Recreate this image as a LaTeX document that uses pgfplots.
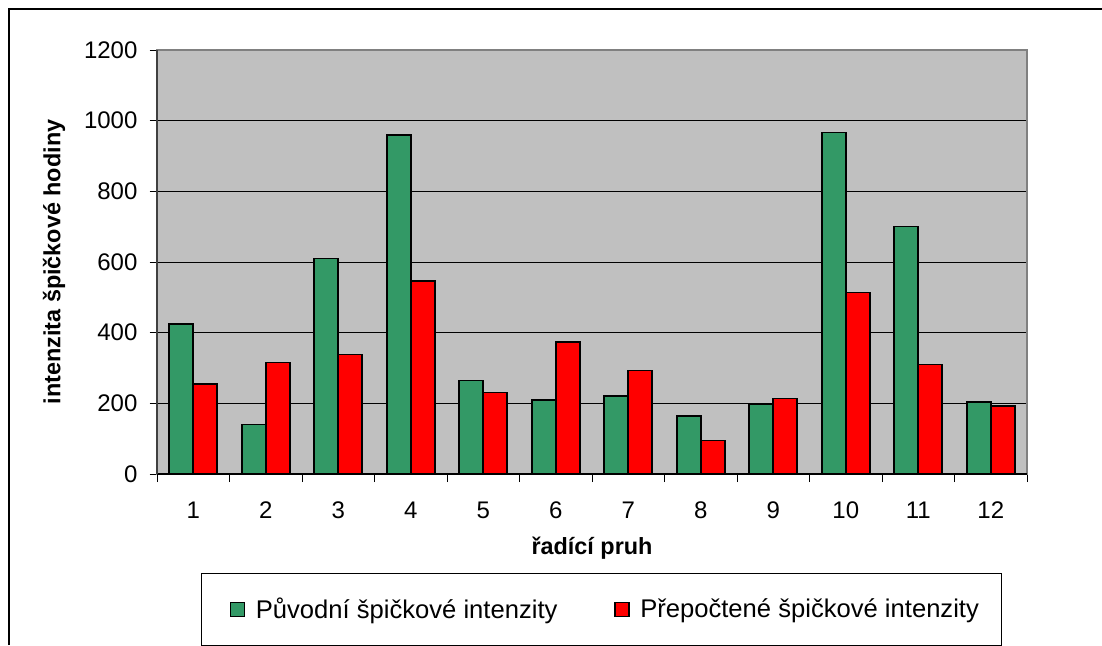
\documentclass[border=0pt]{standalone}
\usepackage{fontspec}
\setmainfont{Liberation Sans}
\usepackage{pgfplots}
\pgfplotsset{compat=1.18}
\definecolor{barGreen}{HTML}{339966}
\definecolor{barRed}{HTML}{FF0000}
\definecolor{plotBg}{HTML}{C0C0C0}
\definecolor{plotBorder}{HTML}{808080}
\pgfplotsset{sqlegend/.style={legend image code/.code={\path (-8pt,0pt); \draw[##1] (0pt,-3.5pt) rectangle (7pt,3.5pt);}}}
\begin{document}
\begin{tikzpicture}
\useasboundingbox (0,0) rectangle (551pt,322.5pt);
\draw[black,line width=0.8pt] (4.5pt,0) -- (4.5pt,318pt) -- (551pt,318pt);
\begin{axis}[
  at={(78.5pt,85.5pt)}, anchor=south west, scale only axis,
  width=435pt, height=212pt,
  xmin=0.5, xmax=12.5, ymin=0, ymax=1200,
  ytick={0,200,...,1200}, xtick={1,...,12},
  minor xtick={0.5,1.5,...,12.5},
  tick pos=left, tick align=outside,
  major tick length=3.75pt, minor tick length=4pt,
  tick style={black, line width=0.5pt},
  major x tick style={draw=none},
  ymajorgrids, grid style={black, line width=0.5pt},
  axis line style={draw=plotBorder, line width=0.8pt},
  axis background/.style={fill=plotBg},
  clip=false,
  ticklabel style={font=\fontsize{12}{14}\selectfont},
  /pgf/number format/assume math mode=true,
  /pgf/number format/1000 sep={},
  yticklabel style={xshift=-2.5pt},
  xticklabel style={yshift=-6.5pt},
  xlabel={řadící pruh},
  ylabel={intenzita špičkové hodiny},
  xlabel style={at={(axis description cs:0.5,-0.1745)}, anchor=center, font=\bfseries\fontsize{11.7}{14}\selectfont},
  ylabel style={at={(axis description cs:-0.1184,0.5)}, anchor=center, font=\bfseries\fontsize{11.7}{14}\selectfont},
  legend columns=2,
  legend cell align=left,
  legend style={at={(axis description cs:0.511,-0.3195)}, anchor=center,
    draw=black, line width=0.6pt, fill=white,
    font=\fontsize{12.8}{15}\selectfont,
    inner xsep=6pt, inner ysep=10pt,
    nodes={inner xsep=5.3pt},
    /tikz/every even column/.append style={column sep=15pt}},
]
\addplot[ybar, bar width=0.331, bar shift=-0.1655, fill=barGreen, draw=black, line width=0.8pt, sqlegend]
  coordinates {(1,424) (2,140) (3,610) (4,960) (5,265) (6,209) (7,220) (8,164) (9,197) (10,966) (11,700) (12,203)};
\addlegendentry{Původní špičkové intenzity}
\addplot[ybar, bar width=0.331, bar shift=0.1655, fill=barRed, draw=black, line width=0.8pt, sqlegend]
  coordinates {(1,254) (2,316) (3,338) (4,547) (5,231) (6,374) (7,293) (8,95) (9,214) (10,514) (11,310) (12,192)};
\addlegendentry{Přepočtené špičkové intenzity}
\draw[black, line width=0.8pt] (rel axis cs:0,0) -- (rel axis cs:1,0);
\draw[black!75, line width=0.8pt] (rel axis cs:0,0) -- (rel axis cs:0,1);
\end{axis}
\end{tikzpicture}
\end{document}
